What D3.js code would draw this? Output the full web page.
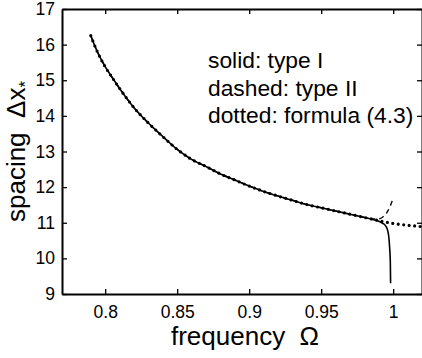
<!DOCTYPE html>
<html>
<head>
<meta charset="utf-8">
<script src="https://cdn.jsdelivr.net/npm/d3@7"></script>
<style>
  body { margin: 0; background: #fff; }
  svg { display: block; font-family: "Liberation Sans", Arial, sans-serif; }
</style>
</head>
<body>
<div id="container"></div>
<script>
// type I (solid)
var freqSolid = [0.79, 0.795, 0.80, 0.805, 0.81, 0.815, 0.82, 0.83, 0.84, 0.85, 0.86, 0.87, 0.88, 0.89, 0.90,
  0.91, 0.92, 0.93, 0.94, 0.95, 0.96, 0.97, 0.98, 0.985, 0.99, 0.992, 0.994, 0.9955, 0.9965, 0.997, 0.9975, 0.998, 0.9982];
var spacingSolid = [16.25, 15.76, 15.38, 15.07, 14.77, 14.49, 14.23, 13.80, 13.42, 13.06, 12.78, 12.58, 12.37, 12.20, 12.03,
  11.88, 11.75, 11.63, 11.51, 11.42, 11.33, 11.24, 11.15, 11.10, 11.04, 11.00, 10.95, 10.86, 10.72, 10.58, 10.32, 9.90, 9.30];

// type II (dashed)
var freqDashed = [0.79, 0.795, 0.80, 0.805, 0.81, 0.815, 0.82, 0.83, 0.84, 0.85, 0.86, 0.87, 0.88, 0.89, 0.90,
  0.91, 0.92, 0.93, 0.94, 0.95, 0.96, 0.97, 0.98, 0.985, 0.99, 0.993, 0.9955, 0.9975, 0.999, 1.0];
var spacingDashed = [16.25, 15.76, 15.38, 15.07, 14.77, 14.49, 14.23, 13.80, 13.42, 13.06, 12.78, 12.58, 12.37, 12.20, 12.03,
  11.88, 11.75, 11.63, 11.51, 11.42, 11.33, 11.24, 11.15, 11.11, 11.11, 11.17, 11.28, 11.43, 11.58, 11.72];

// formula (4.3) (dotted)
var freqDotted = [0.79, 0.795, 0.80, 0.805, 0.81, 0.815, 0.82, 0.83, 0.84, 0.85, 0.86, 0.87, 0.88, 0.89, 0.90,
  0.91, 0.92, 0.93, 0.94, 0.95, 0.96, 0.97, 0.98, 0.99, 1.0, 1.01, 1.02];
var spacingDotted = [16.25, 15.76, 15.38, 15.07, 14.77, 14.49, 14.23, 13.80, 13.42, 13.06, 12.78, 12.58, 12.37, 12.20, 12.03,
  11.88, 11.75, 11.63, 11.51, 11.42, 11.33, 11.24, 11.15, 11.06, 10.98, 10.93, 10.89];

var xTicks = [0.8, 0.85, 0.9, 0.95, 1];
var yTicks = [9, 10, 11, 12, 13, 14, 15, 16, 17];
var legendLines = ["solid: type I", "dashed: type II", "dotted: formula (4.3)"];

var width = 422, height = 358;
var plotLeft = 62, plotRight = 422, plotTop = 9, plotBottom = 294;
var font = '"Liberation Sans", Arial, sans-serif';

var xScale = d3.scaleLinear().domain([0.77, 1.02]).range([plotLeft, plotRight]);
var yScale = d3.scaleLinear().domain([9, 17]).range([plotBottom, plotTop]);

var svg = d3.select("#container").append("svg")
  .attr("width", width)
  .attr("height", height);

var fmt = function(d) { return String(d); };

svg.append("g").attr("class", "axis")
  .attr("transform", "translate(0," + plotBottom + ")")
  .call(d3.axisBottom(xScale).tickValues(xTicks).tickFormat(fmt).tickSizeInner(-5).tickSizeOuter(0).tickPadding(12));
svg.append("g").attr("class", "axis")
  .attr("transform", "translate(0," + plotTop + ")")
  .call(d3.axisTop(xScale).tickValues(xTicks).tickFormat("").tickSizeInner(-5).tickSizeOuter(0));
svg.append("g").attr("class", "axis")
  .attr("transform", "translate(" + plotLeft + ",0)")
  .call(d3.axisLeft(yScale).tickValues(yTicks).tickFormat(fmt).tickSizeInner(-5).tickSizeOuter(0).tickPadding(7));
svg.append("g").attr("class", "axis")
  .attr("transform", "translate(" + plotRight + ",0)")
  .call(d3.axisRight(yScale).tickValues(yTicks).tickFormat("").tickSizeInner(-5).tickSizeOuter(0));

svg.selectAll(".axis").attr("font-family", font).attr("font-size", 17.5);
svg.selectAll(".axis text").attr("fill", "#000");
svg.selectAll(".axis path").attr("stroke", "#000").attr("stroke-width", 2);
svg.selectAll(".axis line").attr("stroke", "#000").attr("stroke-width", 1.3);

function drawLine(xs, ys, dash, w) {
  var line = d3.line()
    .x(function(d, i) { return xScale(xs[i]); })
    .y(function(d) { return yScale(d); })
    .curve(d3.curveMonotoneX);
  svg.append("path")
    .attr("d", line(ys))
    .attr("fill", "none")
    .attr("stroke", "#000")
    .attr("stroke-width", w)
    .attr("stroke-linecap", dash === "0,5.5" ? "round" : "butt")
    .attr("stroke-dasharray", dash);
}

drawLine(freqSolid, spacingSolid, null, 1.6);
drawLine(freqDashed, spacingDashed, "5,4", 1.4);
drawLine(freqDotted, spacingDotted, "0,5.5", 3.2);

svg.selectAll(".legend")
  .data(legendLines)
  .enter().append("text")
  .attr("class", "legend")
  .attr("x", 208)
  .attr("y", function(d, i) { return 68 + i * 27.5; })
  .style("font-size", "22.8px")
  .text(function(d) { return d; });

svg.append("text")
  .attr("x", (plotLeft + plotRight) / 2 + 3)
  .attr("y", 345)
  .attr("text-anchor", "middle")
  .style("font-size", "26px")
  .attr("xml:space", "preserve")
  .text("frequency  \u03A9");

var yl = svg.append("text")
  .attr("transform", "translate(25," + ((plotTop + plotBottom) / 2) + ") rotate(-90)")
  .attr("text-anchor", "middle")
  .style("font-size", "26px")
  .attr("xml:space", "preserve");
yl.append("tspan").text("spacing  \u0394x");
yl.append("tspan").attr("dy", 6).style("font-size", "17px").text("*");
</script>
</body>
</html>
